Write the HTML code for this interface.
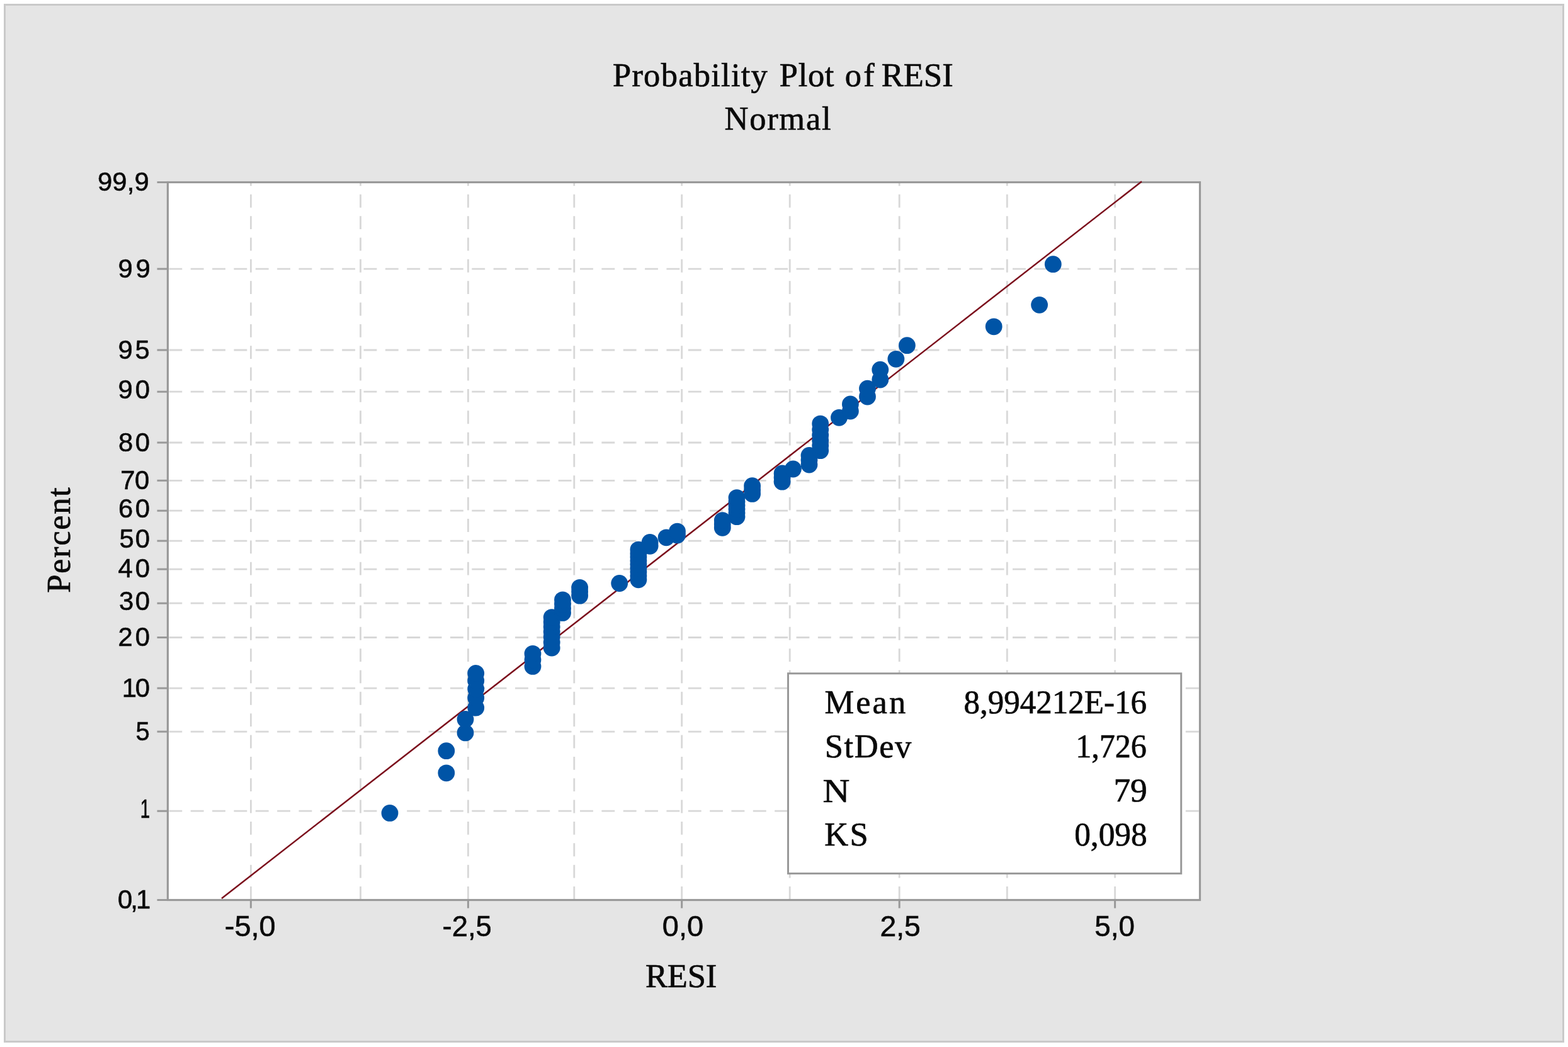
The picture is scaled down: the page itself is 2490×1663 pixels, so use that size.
<!DOCTYPE html>
<html lang="en"><head><meta charset="utf-8"><title>Probability Plot of RESI</title>
<style>html,body{margin:0;padding:0;background:#fff;}body{width:2490px;height:1663px;overflow:hidden;}svg{display:block;}text{fill:#0a0a0a;white-space:pre;}</style></head><body>
<svg width="2490" height="1663" viewBox="0 0 2490 1663" role="img" aria-label="Probability Plot of RESI">
<rect x="0" y="0" width="2490" height="1663" fill="#ffffff"/>
<rect x="7.5" y="7.5" width="2475" height="1647" fill="#e5e5e5" stroke="#c9c9c9" stroke-width="3"/>
<rect x="266.4" y="289.5" width="1639.1" height="1140.0" fill="#ffffff"/>
<g stroke="#d8d8d8" stroke-width="2.8" fill="none" stroke-dasharray="20.85 13.50">
<line x1="268.0" y1="427.1" x2="1903.9" y2="427.1" stroke-dashoffset="33.95"/>
<line x1="268.0" y1="556.0" x2="1903.9" y2="556.0" stroke-dashoffset="33.95"/>
<line x1="268.0" y1="622.2" x2="1903.9" y2="622.2" stroke-dashoffset="33.95"/>
<line x1="268.0" y1="703.0" x2="1903.9" y2="703.0" stroke-dashoffset="33.95"/>
<line x1="268.0" y1="763.3" x2="1903.9" y2="763.3" stroke-dashoffset="33.95"/>
<line x1="268.0" y1="811.2" x2="1903.9" y2="811.2" stroke-dashoffset="33.95"/>
<line x1="268.0" y1="859.1" x2="1903.9" y2="859.1" stroke-dashoffset="33.95"/>
<line x1="268.0" y1="904.1" x2="1903.9" y2="904.1" stroke-dashoffset="33.95"/>
<line x1="268.0" y1="958.2" x2="1903.9" y2="958.2" stroke-dashoffset="33.95"/>
<line x1="268.0" y1="1012.5" x2="1903.9" y2="1012.5" stroke-dashoffset="33.95"/>
<line x1="268.0" y1="1093.1" x2="1903.9" y2="1093.1" stroke-dashoffset="33.95"/>
<line x1="268.0" y1="1162.1" x2="1903.9" y2="1162.1" stroke-dashoffset="33.95"/>
<line x1="268.0" y1="1288.2" x2="1903.9" y2="1288.2" stroke-dashoffset="33.95"/>
<line x1="398.4" y1="291.1" x2="398.4" y2="1427.9" stroke-dashoffset="16.65"/>
<line x1="572.5" y1="291.1" x2="572.5" y2="1427.9" stroke-dashoffset="16.65"/>
<line x1="743.4" y1="291.1" x2="743.4" y2="1427.9" stroke-dashoffset="16.65"/>
<line x1="911.8" y1="291.1" x2="911.8" y2="1427.9" stroke-dashoffset="16.65"/>
<line x1="1082.7" y1="291.1" x2="1082.7" y2="1427.9" stroke-dashoffset="16.65"/>
<line x1="1254.2" y1="291.1" x2="1254.2" y2="1427.9" stroke-dashoffset="16.65"/>
<line x1="1428.2" y1="291.1" x2="1428.2" y2="1427.9" stroke-dashoffset="16.65"/>
<line x1="1599.3" y1="291.1" x2="1599.3" y2="1427.9" stroke-dashoffset="16.65"/>
<line x1="1770.6" y1="291.1" x2="1770.6" y2="1427.9" stroke-dashoffset="16.65"/>
</g>
<rect x="266.4" y="289.5" width="1639.1" height="1140.0" fill="none" stroke="#999999" stroke-width="3.2"/>
<line x1="352.0" y1="1426.9" x2="1813.0" y2="288.3" stroke="#7b0c1b" stroke-width="2.5"/>
<g fill="#0054a6">
<circle cx="619.0" cy="1291.4" r="13.4"/>
<circle cx="708.8" cy="1227.8" r="13.4"/>
<circle cx="708.8" cy="1192.7" r="13.4"/>
<circle cx="739.0" cy="1163.9" r="13.4"/>
<circle cx="739.0" cy="1142.4" r="13.4"/>
<circle cx="755.7" cy="1124.2" r="13.4"/>
<circle cx="755.7" cy="1108.4" r="13.4"/>
<circle cx="755.7" cy="1094.2" r="13.4"/>
<circle cx="755.7" cy="1081.3" r="13.4"/>
<circle cx="755.7" cy="1069.5" r="13.4"/>
<circle cx="846.0" cy="1058.4" r="13.4"/>
<circle cx="846.0" cy="1048.1" r="13.4"/>
<circle cx="846.0" cy="1038.3" r="13.4"/>
<circle cx="876.2" cy="1029.0" r="13.4"/>
<circle cx="876.2" cy="1020.2" r="13.4"/>
<circle cx="876.2" cy="1011.7" r="13.4"/>
<circle cx="876.2" cy="1003.6" r="13.4"/>
<circle cx="876.2" cy="995.7" r="13.4"/>
<circle cx="876.2" cy="988.0" r="13.4"/>
<circle cx="876.2" cy="980.6" r="13.4"/>
<circle cx="893.5" cy="973.4" r="13.4"/>
<circle cx="893.5" cy="966.4" r="13.4"/>
<circle cx="893.5" cy="959.5" r="13.4"/>
<circle cx="893.5" cy="952.8" r="13.4"/>
<circle cx="920.6" cy="946.2" r="13.4"/>
<circle cx="920.6" cy="939.7" r="13.4"/>
<circle cx="920.6" cy="933.3" r="13.4"/>
<circle cx="983.7" cy="926.5" r="13.4"/>
<circle cx="1013.9" cy="920.8" r="13.4"/>
<circle cx="1013.9" cy="914.7" r="13.4"/>
<circle cx="1013.9" cy="908.6" r="13.4"/>
<circle cx="1013.9" cy="902.6" r="13.4"/>
<circle cx="1013.9" cy="896.6" r="13.4"/>
<circle cx="1013.9" cy="890.7" r="13.4"/>
<circle cx="1013.9" cy="884.8" r="13.4"/>
<circle cx="1013.9" cy="878.9" r="13.4"/>
<circle cx="1013.9" cy="873.1" r="13.4"/>
<circle cx="1032.1" cy="867.3" r="13.4"/>
<circle cx="1032.1" cy="861.5" r="13.4"/>
<circle cx="1058.1" cy="853.8" r="13.4"/>
<circle cx="1075.5" cy="849.9" r="13.4"/>
<circle cx="1075.5" cy="844.1" r="13.4"/>
<circle cx="1147.3" cy="838.3" r="13.4"/>
<circle cx="1147.3" cy="832.5" r="13.4"/>
<circle cx="1147.3" cy="826.6" r="13.4"/>
<circle cx="1170.0" cy="820.7" r="13.4"/>
<circle cx="1170.0" cy="814.8" r="13.4"/>
<circle cx="1170.0" cy="808.8" r="13.4"/>
<circle cx="1170.0" cy="802.8" r="13.4"/>
<circle cx="1170.0" cy="796.7" r="13.4"/>
<circle cx="1170.0" cy="790.6" r="13.4"/>
<circle cx="1194.6" cy="784.4" r="13.4"/>
<circle cx="1194.6" cy="778.1" r="13.4"/>
<circle cx="1194.6" cy="771.7" r="13.4"/>
<circle cx="1242.1" cy="765.2" r="13.4"/>
<circle cx="1242.1" cy="758.6" r="13.4"/>
<circle cx="1242.1" cy="751.9" r="13.4"/>
<circle cx="1259.5" cy="745.0" r="13.4"/>
<circle cx="1285.0" cy="738.0" r="13.4"/>
<circle cx="1285.0" cy="730.8" r="13.4"/>
<circle cx="1285.0" cy="723.4" r="13.4"/>
<circle cx="1302.7" cy="715.7" r="13.4"/>
<circle cx="1302.7" cy="707.8" r="13.4"/>
<circle cx="1302.7" cy="699.7" r="13.4"/>
<circle cx="1302.7" cy="691.2" r="13.4"/>
<circle cx="1302.7" cy="682.4" r="13.4"/>
<circle cx="1302.7" cy="673.1" r="13.4"/>
<circle cx="1332.5" cy="663.3" r="13.4"/>
<circle cx="1350.4" cy="653.0" r="13.4"/>
<circle cx="1350.4" cy="641.9" r="13.4"/>
<circle cx="1377.5" cy="630.1" r="13.4"/>
<circle cx="1377.5" cy="617.2" r="13.4"/>
<circle cx="1397.8" cy="603.0" r="13.4"/>
<circle cx="1397.8" cy="587.2" r="13.4"/>
<circle cx="1422.9" cy="570.3" r="13.4"/>
<circle cx="1440.4" cy="548.7" r="13.4"/>
<circle cx="1578.2" cy="518.8" r="13.4"/>
<circle cx="1650.6" cy="484.3" r="13.4"/>
<circle cx="1672.3" cy="419.7" r="13.4"/>
</g>
<g stroke="#999999" stroke-width="3">
<line x1="249.5" y1="289.5" x2="266.4" y2="289.5"/>
<line x1="249.5" y1="427.1" x2="266.4" y2="427.1"/>
<line x1="249.5" y1="556.0" x2="266.4" y2="556.0"/>
<line x1="249.5" y1="622.2" x2="266.4" y2="622.2"/>
<line x1="249.5" y1="703.0" x2="266.4" y2="703.0"/>
<line x1="249.5" y1="763.3" x2="266.4" y2="763.3"/>
<line x1="249.5" y1="811.2" x2="266.4" y2="811.2"/>
<line x1="249.5" y1="859.1" x2="266.4" y2="859.1"/>
<line x1="249.5" y1="904.1" x2="266.4" y2="904.1"/>
<line x1="249.5" y1="958.2" x2="266.4" y2="958.2"/>
<line x1="249.5" y1="1012.5" x2="266.4" y2="1012.5"/>
<line x1="249.5" y1="1093.1" x2="266.4" y2="1093.1"/>
<line x1="249.5" y1="1162.1" x2="266.4" y2="1162.1"/>
<line x1="249.5" y1="1288.2" x2="266.4" y2="1288.2"/>
<line x1="249.5" y1="1429.5" x2="266.4" y2="1429.5"/>
<line x1="398.4" y1="1429.5" x2="398.4" y2="1442.5"/>
<line x1="743.4" y1="1429.5" x2="743.4" y2="1442.5"/>
<line x1="1082.7" y1="1429.5" x2="1082.7" y2="1442.5"/>
<line x1="1428.2" y1="1429.5" x2="1428.2" y2="1442.5"/>
<line x1="1770.6" y1="1429.5" x2="1770.6" y2="1442.5"/>
</g>
<rect x="1251.5" y="1069.7" width="624.2" height="317.7" fill="#ffffff" stroke="#999999" stroke-width="3"/>
<text y="137.3" font-family="'Liberation Serif', serif" font-size="52.5" stroke="#0a0a0a" stroke-width="0.7"><tspan x="972.93" letter-spacing="1.26">Probability</tspan> <tspan x="1237.83" letter-spacing="0.64">Plot</tspan> <tspan x="1341.71" letter-spacing="3.24">of</tspan> <tspan x="1399.73" letter-spacing="0.11">RESI</tspan></text>
<text transform="translate(1150.53 206.30) scale(1.0000 1)" font-family="'Liberation Serif', serif" font-size="52.5" stroke="#0a0a0a" stroke-width="0.7" letter-spacing="1.72">Normal</text>
<text transform="translate(1024.93 1568.00) scale(1.0000 1)" font-family="'Liberation Serif', serif" font-size="52.5" stroke="#0a0a0a" stroke-width="0.7" letter-spacing="-0.12">RESI</text>
<text transform="translate(111.40 941.87) rotate(-90) scale(1.0000 1)" font-family="'Liberation Serif', serif" font-size="52.5" stroke="#0a0a0a" stroke-width="0.7" letter-spacing="1.69">Percent</text>
<text transform="translate(1309.53 1133.40) scale(1.0000 1)" font-family="'Liberation Serif', serif" font-size="52.5" stroke="#0a0a0a" stroke-width="0.7" letter-spacing="3.03">Mean</text>
<text transform="translate(1309.87 1202.60) scale(1.0000 1)" font-family="'Liberation Serif', serif" font-size="52.5" stroke="#0a0a0a" stroke-width="0.7" letter-spacing="1.53">StDev</text>
<text transform="translate(1306.62 1273.80) scale(1.1304 1)" font-family="'Liberation Serif', serif" font-size="52.5" stroke="#0a0a0a" stroke-width="0.7">N</text>
<text transform="translate(1309.13 1343.20) scale(1.0000 1)" font-family="'Liberation Serif', serif" font-size="52.5" stroke="#0a0a0a" stroke-width="0.7" letter-spacing="2.56">KS</text>
<text transform="translate(1530.56 1133.40) scale(0.9714 1)" font-family="'Liberation Serif', serif" font-size="52.5" stroke="#0a0a0a" stroke-width="0.7">8,994212E-16</text>
<text transform="translate(1708.24 1202.80) scale(0.9540 1)" font-family="'Liberation Serif', serif" font-size="52.5" stroke="#0a0a0a" stroke-width="0.7">1,726</text>
<text transform="translate(1768.41 1273.40) scale(1.0173 1)" font-family="'Liberation Serif', serif" font-size="52.5" stroke="#0a0a0a" stroke-width="0.7">79</text>
<text transform="translate(1706.14 1342.80) scale(0.9787 1)" font-family="'Liberation Serif', serif" font-size="52.5" stroke="#0a0a0a" stroke-width="0.7">0,098</text>
<text transform="translate(154.89 302.70) scale(1.0000 1)" font-family="'Liberation Sans', sans-serif" font-size="41.8" stroke="#0a0a0a" stroke-width="0.6" letter-spacing="0.17">99,9</text>
<text transform="translate(187.39 440.50) scale(1.0000 1)" font-family="'Liberation Sans', sans-serif" font-size="41.8" stroke="#0a0a0a" stroke-width="0.6" letter-spacing="4.86">99</text>
<text transform="translate(187.39 569.90) scale(1.0000 1)" font-family="'Liberation Sans', sans-serif" font-size="41.8" stroke="#0a0a0a" stroke-width="0.6" letter-spacing="3.86">95</text>
<text transform="translate(187.39 632.80) scale(1.0000 1)" font-family="'Liberation Sans', sans-serif" font-size="41.8" stroke="#0a0a0a" stroke-width="0.6" letter-spacing="4.21">90</text>
<text transform="translate(188.04 716.70) scale(1.0000 1)" font-family="'Liberation Sans', sans-serif" font-size="41.8" stroke="#0a0a0a" stroke-width="0.6" letter-spacing="3.55">80</text>
<text transform="translate(191.29 776.50) scale(1.0000 1)" font-family="'Liberation Sans', sans-serif" font-size="41.8" stroke="#0a0a0a" stroke-width="0.6" letter-spacing="-0.59">70</text>
<text transform="translate(188.09 821.70) scale(1.0000 1)" font-family="'Liberation Sans', sans-serif" font-size="41.8" stroke="#0a0a0a" stroke-width="0.6" letter-spacing="3.51">60</text>
<text transform="translate(189.44 869.60) scale(1.0000 1)" font-family="'Liberation Sans', sans-serif" font-size="41.8" stroke="#0a0a0a" stroke-width="0.6" letter-spacing="2.15">50</text>
<text transform="translate(187.60 917.40) scale(1.0000 1)" font-family="'Liberation Sans', sans-serif" font-size="41.8" stroke="#0a0a0a" stroke-width="0.6" letter-spacing="4.00">40</text>
<text transform="translate(188.94 968.70) scale(1.0000 1)" font-family="'Liberation Sans', sans-serif" font-size="41.8" stroke="#0a0a0a" stroke-width="0.6" letter-spacing="2.65">30</text>
<text transform="translate(187.39 1025.70) scale(1.0000 1)" font-family="'Liberation Sans', sans-serif" font-size="41.8" stroke="#0a0a0a" stroke-width="0.6" letter-spacing="4.21">20</text>
<text transform="translate(193.64 1106.60) scale(1.0000 1)" font-family="'Liberation Sans', sans-serif" font-size="41.8" stroke="#0a0a0a" stroke-width="0.6" letter-spacing="-2.04">10</text>
<text transform="translate(215.60 1175.50) scale(0.9582 1)" font-family="'Liberation Sans', sans-serif" font-size="41.8" stroke="#0a0a0a" stroke-width="0.6">5</text>
<text transform="translate(222.71 1298.80) scale(0.6652 1)" font-family="'Liberation Sans', sans-serif" font-size="41.8" stroke="#0a0a0a" stroke-width="0.6">1</text>
<text transform="translate(187.04 1442.60) scale(1.0000 1)" font-family="'Liberation Sans', sans-serif" font-size="41.8" stroke="#0a0a0a" stroke-width="0.6" letter-spacing="-2.95">0,1</text>
<text transform="translate(356.78 1487.20) scale(1.0309 1)" font-family="'Liberation Sans', sans-serif" font-size="45.6" stroke="#0a0a0a" stroke-width="0.6">-5,0</text>
<text transform="translate(702.53 1487.20) scale(0.9955 1)" font-family="'Liberation Sans', sans-serif" font-size="45.6" stroke="#0a0a0a" stroke-width="0.6">-2,5</text>
<text transform="translate(1051.78 1487.20) scale(1.0300 1)" font-family="'Liberation Sans', sans-serif" font-size="45.6" stroke="#0a0a0a" stroke-width="0.6">0,0</text>
<text transform="translate(1397.38 1487.20) scale(1.0159 1)" font-family="'Liberation Sans', sans-serif" font-size="45.6" stroke="#0a0a0a" stroke-width="0.6">2,5</text>
<text transform="translate(1738.32 1487.20) scale(1.0036 1)" font-family="'Liberation Sans', sans-serif" font-size="45.6" stroke="#0a0a0a" stroke-width="0.6">5,0</text>
</svg></body></html>
